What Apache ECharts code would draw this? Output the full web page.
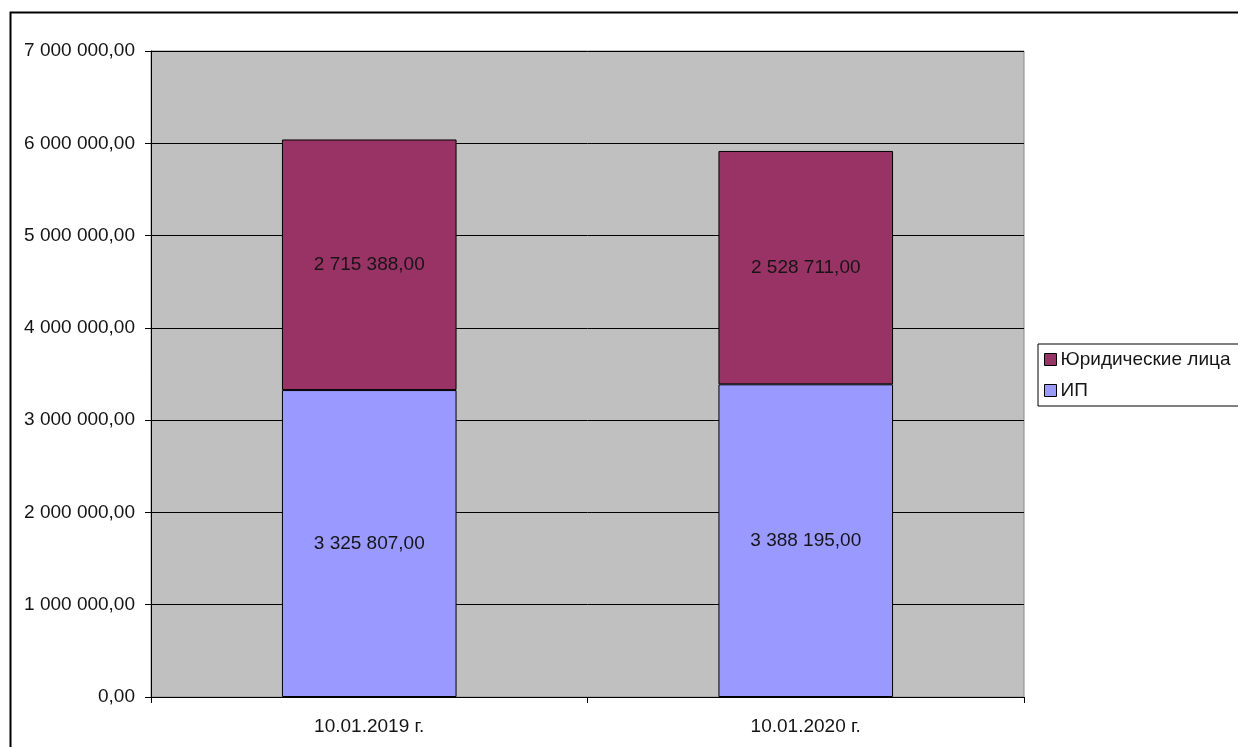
<!DOCTYPE html>
<html>
<head>
<meta charset="utf-8">
<script src="https://cdn.jsdelivr.net/npm/echarts@6/dist/echarts.min.js"></script>
<style>
  html, body { margin: 0; padding: 0; background: #fff; }
  #chart { width: 1238px; height: 747px; }
</style>
</head>
<body>
<div id="chart"></div>
<script>
// Dates of the two snapshots
const categories = ['10.01.2019 г.', '10.01.2020 г.'];
// Individual entrepreneurs
const ipValues = [3325807, 3388195];
// Legal entities
const legalValues = [2715388, 2528711];
const seriesNames = ['ИП', 'Юридические лица'];

const FONT = '"Liberation Sans", Arial, sans-serif';
const TEXT = '#151515';

function fmt(v) {
  const parts = v.toFixed(2).split('.');
  const int = parts[0].replace(/\B(?=(\d{3})+(?!\d))/g, ' ');
  return int + ',' + parts[1];
}

const chart = echarts.init(document.getElementById('chart'), null, { renderer: 'canvas' });

const segLabel = {
  show: true,
  position: 'inside',
  color: TEXT,
  fontFamily: FONT,
  fontSize: 19,
  formatter: p => fmt(p.value)
};

chart.setOption({
  animation: false,
  backgroundColor: '#fff',
  graphic: [{
    type: 'rect',
    shape: { x: 10.5, y: 12.5, width: 1300, height: 800 },
    style: { fill: 'none', stroke: '#000', lineWidth: 2 },
    silent: true,
    z: -1
  }],
  grid: {
    left: 151, right: 214, top: 51, bottom: 50,
    show: true,
    backgroundColor: '#C0C0C0',
    borderColor: '#8a8a8a',
    borderWidth: 1
  },
  legend: {
    orient: 'vertical',
    left: 1038, top: 344,
    data: [seriesNames[1], seriesNames[0]],
    itemWidth: 12, itemHeight: 12,
    itemGap: 12,
    padding: [6, 40, 6, 6],
    borderColor: '#000',
    borderWidth: 1,
    icon: 'rect',
    itemStyle: { borderColor: '#000', borderWidth: 1 },
    textStyle: { fontFamily: FONT, fontSize: 19, color: TEXT, padding: [0, 0, 0, -1] }
  },
  xAxis: {
    type: 'category',
    data: categories,
    boundaryGap: true,
    axisLine: { lineStyle: { color: '#000', width: 1 } },
    axisTick: { show: true, length: 6, lineStyle: { color: '#000' } },
    axisLabel: { fontFamily: FONT, fontSize: 19, color: TEXT, margin: 20 }
  },
  yAxis: {
    type: 'value',
    min: 0, max: 7000000, interval: 1000000,
    axisLine: { show: true, lineStyle: { color: '#000', width: 1 } },
    axisTick: { show: true, length: 6, lineStyle: { color: '#000' } },
    splitLine: { show: true, lineStyle: { color: '#000', width: 1 } },
    axisLabel: { fontFamily: FONT, fontSize: 19, color: TEXT, margin: 16, formatter: v => fmt(v) }
  },
  series: [
    {
      name: seriesNames[0],
      type: 'bar',
      stack: 'total',
      data: ipValues,
      barCategoryGap: '60%',
      itemStyle: { color: '#9999FF', borderColor: '#000', borderWidth: 1 },
      label: segLabel
    },
    {
      name: seriesNames[1],
      type: 'bar',
      stack: 'total',
      data: legalValues,
      barCategoryGap: '60%',
      itemStyle: { color: '#993366', borderColor: '#000', borderWidth: 1 },
      label: segLabel
    }
  ]
});
</script>
</body>
</html>
